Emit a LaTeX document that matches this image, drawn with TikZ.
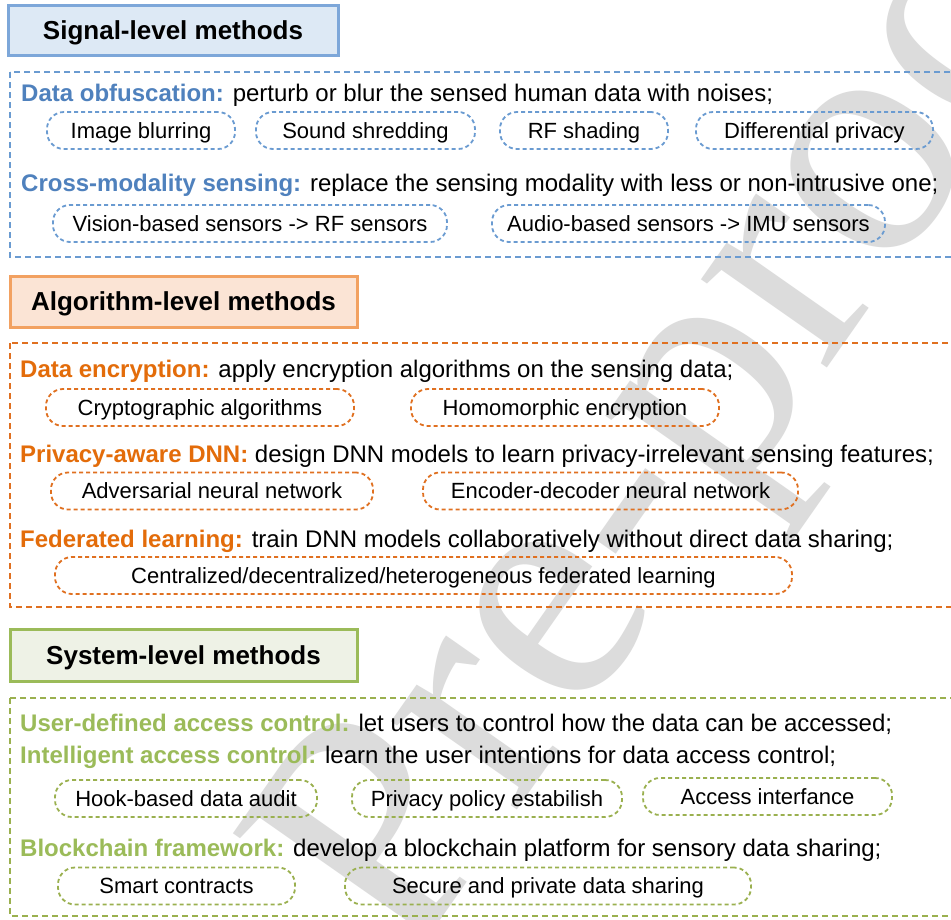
\documentclass[tikz,border=0pt]{standalone}
\usepackage{fontspec}
\setmainfont{Liberation Sans}
\newfontfamily\wmfont{Liberation Serif}
\definecolor{sigc}{HTML}{4F81BD}
\definecolor{sigline}{HTML}{6A9BD1}
\definecolor{sighfill}{HTML}{DDE9F5}
\definecolor{sighdraw}{HTML}{7DA7D9}
\definecolor{algc}{HTML}{E36C0A}
\definecolor{algline}{HTML}{E07020}
\definecolor{alghfill}{HTML}{FBE4D5}
\definecolor{alghdraw}{HTML}{F2A161}
\definecolor{sysc}{HTML}{9BBB59}
\definecolor{sysline}{HTML}{9AB04F}
\definecolor{syshfill}{HTML}{EEF2E6}
\definecolor{syshdraw}{HTML}{9BBB59}
\definecolor{wmgray}{HTML}{DCDCDC}
\tikzset{
  hdr/.style={draw, line width=3pt, inner sep=0pt, text height=18.7pt, text depth=0pt,
    font=\bfseries\fontsize{26}{30}\selectfont},
  grp/.style={line width=2.5pt, dash pattern=on 6pt off 4pt},
  pill/.style={draw, rounded corners=17pt, line width=1.8pt, dash pattern=on 4pt off 3pt,
    minimum height=37pt, inner sep=0pt, text height=15.8pt, text depth=0pt,
    font=\fontsize{22}{26}\selectfont},
  lbl/.style={anchor=base west, inner sep=0pt, font=\fontsize{24}{28}\selectfont},
  wm/.style={text=wmgray, inner sep=0pt, font=\wmfont\fontsize{335}{335}\selectfont}
}
\begin{document}
\begin{tikzpicture}[x=1pt,y=-1pt]
\useasboundingbox (0,0) rectangle (951,919);
\clip (0,0) rectangle (951,919);
\fill[white] (0,0) rectangle (951,919);
% watermark
\node[wm, rotate=55, anchor=base west] (wmk) at (407,968) {Pre-proof};

% ---------- Signal level ----------
\node[hdr, draw=sighdraw, fill=sighfill, minimum width=330pt, minimum height=50pt] (sigh) at (173,30) {Signal-level methods};
\draw[grp, sigline] (10,72) rectangle (965,257);
\node[lbl] (s1) at (21,101.5) {\textcolor{sigc}{\bfseries Data obfuscation:} perturb or blur the sensed human data with noises;};
\node[pill, draw=sigline, minimum width=188pt] (p11) at (141,130.5) {Image blurring};
\node[pill, draw=sigline, minimum width=219pt] (p12) at (365.5,130.5) {Sound shredding};
\node[pill, draw=sigline, minimum width=168pt] (p13) at (584,130.5) {RF shading};
\node[pill, draw=sigline, minimum width=237pt] (p14) at (814.5,130.5) {Differential privacy};
\node[lbl] (s2) at (21,191.5) {\textcolor{sigc}{\bfseries Cross-modality sensing:} replace the sensing modality with less or non-intrusive one;};
\node[pill, draw=sigline, minimum width=394pt] (p21) at (250,223.5) {Vision-based sensors -> RF sensors};
\node[pill, draw=sigline, minimum width=393pt] (p22) at (688.5,223.5) {Audio-based sensors -> IMU sensors};

% ---------- Algorithm level ----------
\node[hdr, draw=alghdraw, fill=alghfill, minimum width=347pt, minimum height=51pt] (algh) at (183.5,301.5) {Algorithm-level methods};
\draw[grp, algline] (10,343) rectangle (965,607);
\node[lbl] (a1) at (20,377) {\textcolor{algc}{\bfseries Data encryption:} apply encryption algorithms on the sensing data;};
\node[pill, draw=algline, minimum width=308pt] (a11) at (200,407.5) {Cryptographic algorithms};
\node[pill, draw=algline, minimum width=308pt] (a12) at (565,407.5) {Homomorphic encryption};
\node[lbl] (a2) at (20,462) {\textcolor{algc}{\bfseries Privacy-aware DNN:} design DNN models to learn privacy-irrelevant sensing features;};
\node[pill, draw=algline, minimum width=322pt] (a21) at (212,491) {Adversarial neural network};
\node[pill, draw=algline, minimum width=375pt] (a22) at (610.5,491) {Encoder-decoder neural network};
\node[lbl] (a3) at (20,547) {\textcolor{algc}{\bfseries Federated learning:} train DNN models collaboratively without direct data sharing;};
\node[pill, draw=algline, minimum width=737pt] (a31) at (423.5,575.5) {Centralized/decentralized/heterogeneous federated learning};

% ---------- System level ----------
\node[hdr, draw=syshdraw, fill=syshfill, minimum width=347pt, minimum height=52pt] (sysh) at (183.5,655) {System-level methods};
\draw[grp, sysline] (10,698) rectangle (965,916);
\node[lbl] (y1) at (20,731) {\textcolor{sysc}{\bfseries User-defined access control:} let users to control how the data can be accessed;};
\node[lbl] (y2) at (20,763) {\textcolor{sysc}{\bfseries Intelligent access control:} learn the user intentions for data access control;};
\node[pill, draw=sysline, minimum width=262pt] (s11) at (186,798.5) {Hook-based data audit};
\node[pill, draw=sysline, minimum width=270pt] (s12) at (487,798.5) {Privacy policy estabilish};
\node[pill, draw=sysline, minimum width=249pt] (s13) at (767.5,796.5) {Access interfance};
\node[lbl] (y3) at (20,856) {\textcolor{sysc}{\bfseries Blockchain framework:} develop a blockchain platform for sensory data sharing;};
\node[pill, draw=sysline, minimum width=237pt] (s21) at (176.5,886) {Smart contracts};
\node[pill, draw=sysline, minimum width=406pt] (s22) at (548,886) {Secure and private data sharing};
\end{tikzpicture}
\end{document}
